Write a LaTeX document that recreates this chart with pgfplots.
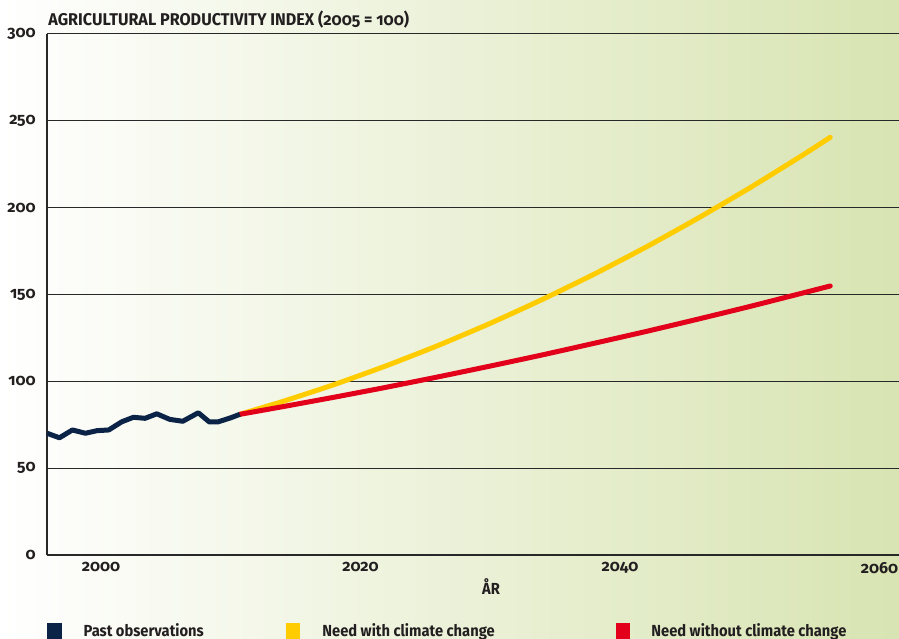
\documentclass[border=0pt]{standalone}
\usepackage{fontspec}
\setmainfont{Fira Sans}[Numbers=OldStyle]
\newfontfamily\condbf{Fira Sans}[Numbers=OldStyle,FakeStretch=0.92,UprightFont=* Bold]
\newfontfamily\titlebf{Fira Sans}[Numbers=OldStyle,FakeStretch=0.95,UprightFont=* Bold]
\usepackage{pgfplots}
\pgfplotsset{compat=1.18}
\definecolor{bgGreen}{RGB}{216,228,178}
\definecolor{navyc}{RGB}{10,35,70}
\definecolor{yellowc}{RGB}{255,204,0}
\definecolor{redc}{RGB}{226,0,26}
\definecolor{txt}{RGB}{35,31,32}
\definecolor{gridc}{RGB}{40,40,40}
\pgfplotstableread{
year value
1995.85 70.1
1996.8 67.5
1997.8 72.0
1998.8 70.1
1999.7 71.6
2000.6 72.0
2001.6 76.7
2002.5 79.3
2003.4 78.7
2004.3 81.3
2005.3 78.1
2006.3 77.0
2007.5 81.9
2008.35 76.6
2009.0 76.6
2010.0 79.0
2010.7 81.0
}\past
\pgfplotstableread{
year value
2010.7 81.0
2014 88.4
2018 98.2
2022 109.0
2026 120.7
2030 133.4
2034 147.1
2038 161.7
2042 177.3
2046 193.9
2050 211.4
2054 229.9
2056.2 240.5
}\withcc
\pgfplotstableread{
year value
2010.7 81.0
2014 85.4
2018 90.9
2022 96.6
2026 102.6
2030 108.8
2034 115.2
2038 121.9
2042 128.7
2046 135.8
2050 143.1
2054 150.7
2056.2 154.9
}\withoutcc
\begin{document}
\begin{tikzpicture}
\shade[left color=white, right color=bgGreen, use as bounding box] (-23.5pt,-41.5pt) rectangle (426pt,277.5pt);
\begin{axis}[
  at={(0pt,0pt)}, anchor=south west,
  scale only axis, width=426pt, height=260.5pt,
  xmin=1995.84, xmax=2061.5, ymin=0, ymax=300,
  axis x line*=bottom, axis y line*=left,
  axis line style={line width=0.85pt, color=gridc, -},
  xtick={2000,2020,2040,2060}, ytick={0,50,...,300},
  major tick length=0pt,
  ymajorgrids, grid style={line width=0.5pt, color=gridc},
  /pgf/number format/assume math mode=true,
  /pgf/number format/1000 sep={},
  tick label style={font=\bfseries\fontsize{8}{9}\selectfont, text=txt, inner sep=0pt},
  yticklabel style={anchor=east, xshift=-5.5pt},
  xticklabel style={anchor=north, yshift=-3.5pt},
  clip=false,
]
\addplot[yellowc, line width=2.5pt, line cap=round, line join=round, smooth, tension=0.3] table[x=year,y=value] {\withcc};
\addplot[redc, line width=2.5pt, line cap=round, line join=round, smooth, tension=0.3] table[x=year,y=value] {\withoutcc};
\addplot[navyc, line width=2.5pt, line cap=butt, line join=round] table[x=year,y=value] {\past};
\end{axis}
\node[anchor=base west, inner sep=0pt, text=txt, font=\titlebf\fontsize{8.5}{10}\selectfont] at (0.5pt,264.5pt) {AGRICULTURAL PRODUCTIVITY INDEX (2005 = 100)};
\node[anchor=base, inner sep=0pt, text=txt, font=\condbf\fontsize{8}{9}\selectfont] at (222pt,-19.65pt) {ÅR};
\fill[navyc] (0pt,-33.85pt) rectangle (7.5pt,-45pt);
\fill[yellowc] (119.5pt,-33.85pt) rectangle (126.5pt,-45pt);
\fill[redc] (284.5pt,-33.85pt) rectangle (291.5pt,-45pt);
\node[anchor=base west, inner sep=0pt, text=txt, font=\condbf\fontsize{8}{9}\selectfont] at (18.15pt,-40.85pt) {Past observations};
\node[anchor=base west, inner sep=0pt, text=txt, font=\condbf\fontsize{8}{9}\selectfont] at (137.5pt,-40.85pt) {Need with climate change};
\node[anchor=base west, inner sep=0pt, text=txt, font=\condbf\fontsize{8}{9}\selectfont] at (302pt,-40.85pt) {Need without climate change};
\end{tikzpicture}
\end{document}
